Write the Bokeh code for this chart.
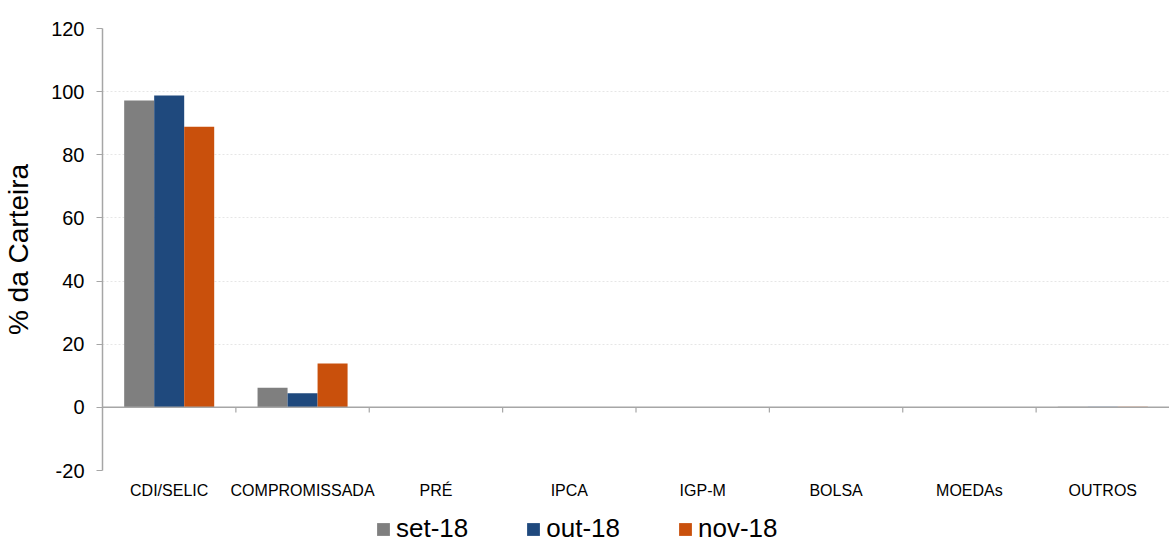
from bokeh.plotting import figure
from bokeh.layouts import column
from bokeh.models import FixedTicker, Legend, LegendItem, Span, ColumnDataSource, Range1d
from bokeh.embed import file_html
from bokeh.resources import INLINE

categories = ["CDI/SELIC", "COMPROMISSADA", "PRÉ", "IPCA", "IGP-M", "BOLSA", "MOEDAs", "OUTROS"]
series_names = ["set-18", "out-18", "nov-18"]
set18 = [97.2, 6.2, 0.15, 0.0, 0.0, 0.0, 0.0, 0.2]
out18 = [98.8, 4.5, 0.15, 0.0, 0.0, 0.0, 0.0, 0.2]
nov18 = [88.9, 13.9, 0.0, 0.0, 0.0, 0.0, 0.0, 0.2]
y_ticks = [-20, 0, 20, 40, 60, 80, 100, 120]
colors = ["#7f7f7f", "#1f497d", "#c9500c"]

FONT = "Liberation Sans"
n = len(categories)
centers = [i + 0.5 for i in range(n)]

p = figure(width=1169, height=510, output_backend="svg", toolbar_location=None,
           x_range=Range1d(0, n), y_range=Range1d(-20, 120),
           min_border_left=102, min_border_right=0, min_border_top=28, min_border_bottom=40)
p.outline_line_color = None
p.background_fill_color = "white"
p.border_fill_color = "white"

bw = 0.225
offsets = [-bw, 0.0, bw]
renderers = []
for vals, off, col in zip([set18, out18, nov18], offsets, colors):
    src = ColumnDataSource(dict(x=[c + off for c in centers], top=vals))
    r = p.vbar(x="x", top="top", bottom=0, width=bw, source=src, fill_color=col, line_color=None)
    renderers.append(r)

# zero line
p.add_layout(Span(location=0, dimension="width", line_color="#a6a6a6", line_width=1.5))
# category boundary ticks at zero line
bounds = list(range(1, n))
p.segment(x0=bounds, x1=bounds, y0=[0] * len(bounds), y1=[-1.6] * len(bounds),
          line_color="#a6a6a6", line_width=1.2)

# axes
p.xaxis.ticker = FixedTicker(ticks=centers)
p.xaxis.major_label_overrides = {c: lab for c, lab in zip(centers, categories)}
p.xaxis.axis_line_color = None
p.xaxis.major_tick_line_color = None
p.xaxis.minor_tick_line_color = None
p.xaxis.major_label_text_font = FONT
p.xaxis.major_label_text_font_size = "16px"
p.xaxis.major_label_text_color = "#000000"
p.xaxis.major_label_standoff = 5

p.yaxis.ticker = FixedTicker(ticks=y_ticks)
p.yaxis.major_label_overrides = {t: str(t) for t in y_ticks}
p.yaxis.axis_line_color = "#a6a6a6"
p.yaxis.axis_line_width = 1.5
p.yaxis.major_tick_line_color = "#a6a6a6"
p.yaxis.major_tick_out = 6
p.yaxis.major_tick_in = 0
p.yaxis.minor_tick_line_color = None
p.yaxis.major_label_text_font = FONT
p.yaxis.major_label_text_font_size = "20px"
p.yaxis.major_label_text_color = "#000000"
p.yaxis.major_label_standoff = 12
p.yaxis.axis_label = "% da Carteira"
p.yaxis.axis_label_text_font = FONT
p.yaxis.axis_label_text_font_size = "28px"
p.yaxis.axis_label_text_font_style = "normal"
p.yaxis.axis_label_text_color = "#000000"
p.yaxis.axis_label_standoff = 14

p.xgrid.grid_line_color = None
p.ygrid.ticker = FixedTicker(ticks=[t for t in y_ticks if t != 0])
p.ygrid.grid_line_color = "#e6e6e6"
p.ygrid.grid_line_dash = "2 2"
p.ygrid.grid_line_width = 1

# legend in its own strip below the chart (frame aligned with main chart frame)
lf = figure(width=1169, height=38, output_backend="svg", toolbar_location=None,
            x_range=Range1d(0, 1), y_range=Range1d(0, 1),
            min_border_left=0, min_border_right=0, min_border_top=0, min_border_bottom=0)
lf.axis.visible = False
lf.xaxis.axis_line_color = None
lf.yaxis.axis_line_color = None
lf.grid.visible = False
lf.outline_line_color = None
lrs = []
for col in colors:
    lrs.append(lf.vbar(x=[0.5], top=[0], bottom=0, width=0, fill_color=col, line_color=None))

legend = Legend(items=[LegendItem(label=nm, renderers=[r]) for nm, r in zip(series_names, lrs)],
                orientation="horizontal", location=(273, 4))
legend.label_text_font = FONT
legend.label_text_font_size = "26px"
legend.label_text_color = "#000000"
legend.glyph_width = 16
legend.glyph_height = 16
legend.spacing = 57
legend.label_standoff = 5
legend.border_line_color = None
legend.background_fill_alpha = 0
legend.padding = 0
legend.margin = 0
lf.add_layout(legend)

layout = column(p, lf, spacing=0)
open("out.html", "w").write(file_html(layout, INLINE))
